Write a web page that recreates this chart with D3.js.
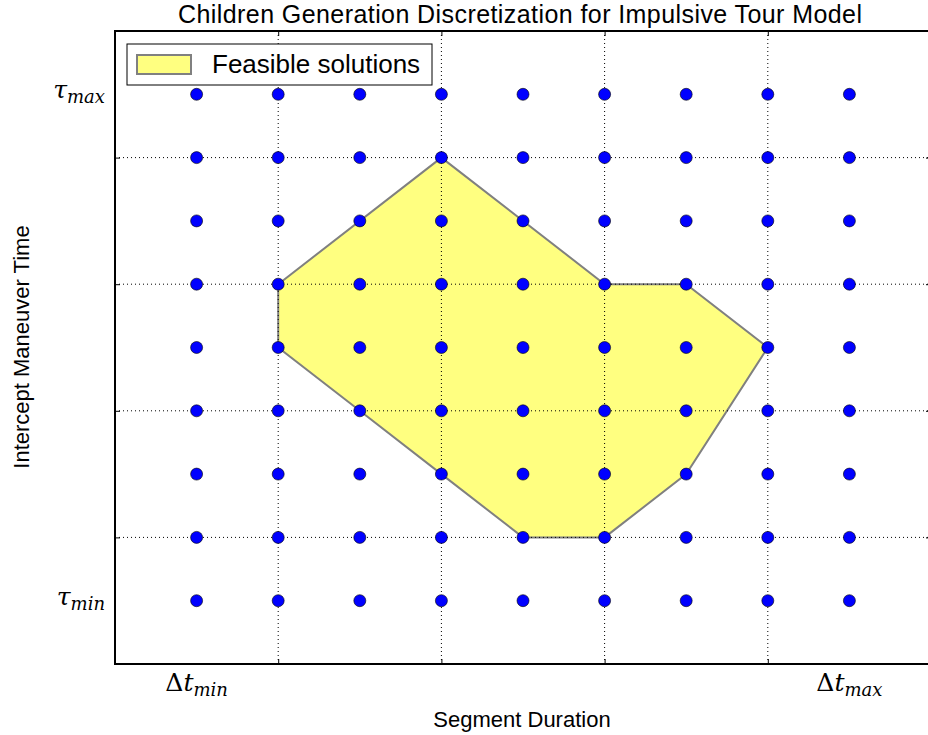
<!DOCTYPE html>
<html>
<head>
<meta charset="utf-8">
<script src="https://cdn.jsdelivr.net/npm/d3@7"></script>
<style>
  html, body { margin: 0; padding: 0; background: #fff; }
  svg { display: block; }
  .sans { font-family: "Liberation Sans", Arial, sans-serif; }
  .math { font-family: "DejaVu Serif", "Liberation Serif", serif; font-style: italic; }
</style>
</head>
<body>
<svg id="chart" width="928" height="735"></svg>
<script>
// Children generation grid + feasible region polygon

// --- Data ---
const gridX = [1, 2, 3, 4, 5, 6, 7, 8, 9];     // segment duration steps
const gridY = [1, 2, 3, 4, 5, 6, 7, 8, 9];     // intercept maneuver time steps
const majorTicks = [2, 4, 6, 8];
const xLabelTicks = [1, 9];
const xLabelBase = ["\u0394t", "\u0394t"];
const xLabelSub = ["min", "max"];
const yLabelTicks = [1, 9];
const yLabelBase = ["\u03c4", "\u03c4"];
const yLabelSub = ["min", "max"];
const polyX = [2, 4, 6, 7, 8, 7, 6, 5, 4, 3, 2];
const polyY = [6, 8, 6, 6, 5, 3, 2, 2, 3, 4, 5];

// --- Layout ---
const margin = { left: 115, top: 31 };
const plotW = 816, plotH = 633;

const svg = d3.select("#chart");
const x = d3.scaleLinear().domain([0, 10]).range([margin.left, margin.left + plotW]);
const y = d3.scaleLinear().domain([0, 10]).range([margin.top + plotH, margin.top]);

// Feasible region
const poly = polyX.map((d, i) => [x(d), y(polyY[i])]);
svg.append("path")
  .attr("d", d3.line()(poly) + "Z")
  .attr("fill", "#ffff80")
  .attr("stroke", "#808080")
  .attr("stroke-width", 2)
  .attr("stroke-linejoin", "miter");

// Grid lines (dotted)
const grid = svg.append("g").attr("stroke", "#000").attr("stroke-width", 1)
  .attr("stroke-dasharray", "1,3");
grid.selectAll(".gx").data(majorTicks).join("line")
  .attr("x1", d => x(d)).attr("x2", d => x(d))
  .attr("y1", y(0)).attr("y2", y(10));
grid.selectAll(".gy").data(majorTicks).join("line")
  .attr("y1", d => y(d)).attr("y2", d => y(d))
  .attr("x1", x(0)).attr("x2", x(10));

// Dots
const pts = [];
gridX.forEach(a => gridY.forEach(b => pts.push([a, b])));
svg.append("g").selectAll("circle").data(pts).join("circle")
  .attr("cx", d => x(d[0])).attr("cy", d => y(d[1]))
  .attr("r", 6)
  .attr("fill", "#0000ff")
  .attr("stroke", "#000")
  .attr("stroke-width", 0.6);

// Axes: inward ticks on all four sides, no labels
const tickLen = 5;
function frameAxis(axis, transform) {
  const g = svg.append("g").attr("transform", transform)
    .call(axis.tickValues(majorTicks).tickSizeInner(-tickLen).tickSizeOuter(0).tickFormat(""));
  g.select(".domain").remove();
  g.selectAll(".tick line").attr("stroke", "#000").attr("stroke-width", 1);
}
frameAxis(d3.axisBottom(x), `translate(0,${y(0)})`);
frameAxis(d3.axisTop(x), `translate(0,${y(10)})`);
frameAxis(d3.axisLeft(y), `translate(${x(0)},0)`);
frameAxis(d3.axisRight(y), `translate(${x(10)},0)`);

svg.append("rect")
  .attr("x", x(0)).attr("y", y(10))
  .attr("width", plotW).attr("height", plotH)
  .attr("fill", "none").attr("stroke", "#000").attr("stroke-width", 2);

// Math tick labels
const xl = svg.append("g").selectAll("text").data(xLabelTicks).join("text")
  .attr("class", "math")
  .attr("x", d => x(d)).attr("y", y(0) + 27)
  .attr("text-anchor", "middle")
  .attr("font-size", 25);
xl.append("tspan").style("font-style", "normal").text((d, i) => xLabelBase[i].charAt(0));
xl.append("tspan").text((d, i) => xLabelBase[i].slice(1));
xl.append("tspan").attr("dy", 5).attr("font-size", 18).text((d, i) => xLabelSub[i]);

const yl = svg.append("g").selectAll("text").data(yLabelTicks).join("text")
  .attr("class", "math")
  .attr("x", x(0) - 10).attr("y", d => y(d) + 4)
  .attr("text-anchor", "end")
  .attr("font-size", 25);
yl.append("tspan").text((d, i) => yLabelBase[i]);
yl.append("tspan").attr("dy", 5).attr("font-size", 18).text((d, i) => yLabelSub[i]);

// Titles
svg.append("text").attr("class", "sans")
  .attr("x", 520).attr("y", 23)
  .attr("text-anchor", "middle").attr("font-size", 25)
  .attr("textLength", 684).attr("lengthAdjust", "spacing")
  .text("Children Generation Discretization for Impulsive Tour Model");
svg.append("text").attr("class", "sans")
  .attr("x", 522).attr("y", 727)
  .attr("text-anchor", "middle").attr("font-size", 22)
  .text("Segment Duration");
svg.append("text").attr("class", "sans")
  .attr("transform", "translate(29,347) rotate(-90)")
  .attr("text-anchor", "middle").attr("font-size", 22)
  .text("Intercept Maneuver Time");

// Legend
const lg = svg.append("g");
lg.append("rect").attr("x", 127).attr("y", 44).attr("width", 305).attr("height", 41)
  .attr("fill", "#fff").attr("stroke", "#000").attr("stroke-width", 1);
lg.append("rect").attr("x", 137).attr("y", 55).attr("width", 54).attr("height", 19)
  .attr("fill", "#ffff80").attr("stroke", "#808080").attr("stroke-width", 2);
lg.append("text").attr("class", "sans").attr("x", 212).attr("y", 73)
  .attr("font-size", 26).text("Feasible solutions");
</script>
</body>
</html>
